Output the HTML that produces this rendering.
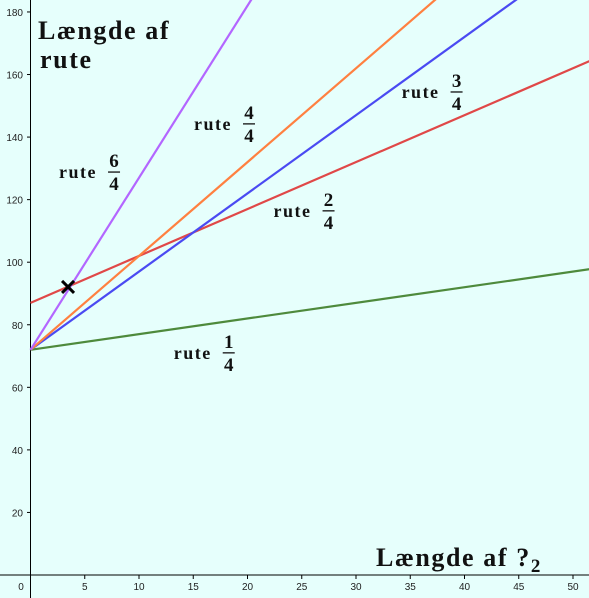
<!DOCTYPE html>
<html><head><meta charset="utf-8"><style>
html,body{margin:0;padding:0;background:#e6fffc;}
svg{display:block;}
.tk{font-family:"Liberation Sans",sans-serif;font-size:10px;fill:#222;}
.lb{font-family:"Liberation Serif",serif;font-weight:bold;font-size:18px;fill:#111;letter-spacing:1.5px;}
.fr{font-family:"Liberation Serif",serif;font-weight:bold;font-size:19px;fill:#111;}
.tt{font-family:"Liberation Serif",serif;font-weight:bold;font-size:26px;fill:#111;letter-spacing:1.6px;}
</style></head><body>
<svg id="chart" width="589" height="598" xmlns="http://www.w3.org/2000/svg">
<rect width="589" height="598" fill="#e6fffc"/>
<g id="axes"></g>
<g id="lines"></g>
<g id="labels"></g>
<text class="tt" x="38" y="39">Længde af</text>
<text class="tt" x="40" y="68">rute</text>
<text class="tt" x="376" y="566">Længde af ?<tspan font-size="19" dy="6">2</tspan></text>
</svg>
<script>
const xTicks=[5,10,15,20,25,30,35,40,45,50];
const yTicks=[20,40,60,80,100,120,140,160,180];
const seriesNames=["rute 1/4","rute 2/4","rute 3/4","rute 4/4","rute 6/4"];
const intercepts=[72,87,72,72,72];
const slopes=[0.5,1.5,2.5,3,5.5];
const colors=["#4e8a3c","#e04848","#4a4af2","#ff8040","#b366ff"];
const labelNum=["1","2","3","4","6"];
const labelPos=[[13.2,69.1],[22.4,114.5],[34.2,152.5],[15.07,142.3],[2.63,126.9]];
const marker=[3.46,92.1];
const NS="http://www.w3.org/2000/svg";
const X=v=>30.5+v*10.85, Y=v=>575-v*3.128;
function mk(t,a,p){const e=document.createElementNS(NS,t);for(const k in a)e.setAttribute(k,a[k]);p.appendChild(e);return e;}
const ax=document.getElementById('axes');
let e=mk('line',{x1:0,y1:575,x2:589,y2:575,stroke:'#000','stroke-width':1},ax);


e=mk('line',{x1:30.5,y1:0,x2:30.5,y2:598,stroke:'#000','stroke-width':1},ax);


e=mk('text',{class:'tk',x:21,y:590,'text-anchor':'middle'},ax);e.textContent='0';


xTicks.forEach(v=>{
 let t=mk('line',{x1:X(v),y1:575,x2:X(v),y2:579,stroke:'#000'},ax);
 
 
 let l=mk('text',{class:'tk',x:X(v),y:590,'text-anchor':'middle'},ax);l.textContent=v;
 
 
});
yTicks.forEach(v=>{
 let t=mk('line',{x1:27,y1:Y(v),x2:30.5,y2:Y(v),stroke:'#000'},ax);
 
 
 let l=mk('text',{class:'tk',x:23,y:Y(v)+4,'text-anchor':'end'},ax);l.textContent=v;
 
 
});
const lg=document.getElementById('lines');
slopes.forEach((s,i)=>{
 const x2=60;
 let l=mk('line',{x1:X(0),y1:Y(intercepts[i]),x2:X(x2),y2:Y(intercepts[i]+s*x2),stroke:colors[i],'stroke-width':2.2},lg);
 
 
});
const mx=X(marker[0]),my=Y(marker[1]);
const mg=mk('g',{},lg);


mk('line',{x1:mx-6,y1:my-6,x2:mx+6,y2:my+6,stroke:'#000','stroke-width':3},mg);
mk('line',{x1:mx+6,y1:my-6,x2:mx-6,y2:my+6,stroke:'#000','stroke-width':3},mg);
const lb=document.getElementById('labels');
labelPos.forEach((p,i)=>{
 const x=X(p[0]),y=Y(p[1]);
 const g=mk('g',{},lb);
 
 
 let t=mk('text',{class:'lb',x:x,y:y},g);t.textContent='rute';
 const cx=x+55;
 t=mk('text',{class:'fr',x:cx,y:y-11,'text-anchor':'middle'},g);t.textContent=labelNum[i];
 mk('line',{x1:cx-6,y1:y-6,x2:cx+6,y2:y-6,stroke:'#111','stroke-width':1.3},g);
 t=mk('text',{class:'fr',x:cx,y:y+12,'text-anchor':'middle'},g);t.textContent='4';
});
</script>
</body></html>
